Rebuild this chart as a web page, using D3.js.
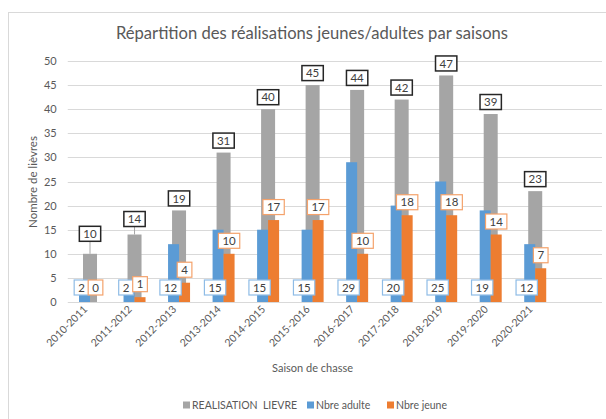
<!DOCTYPE html>
<html lang="fr">
<head>
<meta charset="UTF-8" />
<title>Répartition des réalisations jeunes/adultes par saisons</title>
<style>
    body { margin: 0; background: #fff; font-family: Lato, "Open Sans", sans-serif; }
    svg text { fill: #595959; }
    .grid line { stroke: #d9d9d9; stroke-width: 1px; }
    .lbl text { fill: #404040; font-size: 11.5px; }
</style>
</head>
<body>
<svg width="606" height="419"></svg>
<script src="https://d3js.org/d3.v7.min.js"></script>
<script>
// data
const seasons = ['2010-2011', '2011-2012', '2012-2013', '2013-2014', '2014-2015', '2015-2016',
    '2016-2017', '2017-2018', '2018-2019', '2019-2020', '2020-2021'];
const realisation = [10, 14, 19, 31, 40, 45, 44, 42, 47, 39, 23];
const adultes = [2, 2, 12, 15, 15, 15, 29, 20, 25, 19, 12];
const jeunes = [0, 1, 4, 10, 17, 17, 10, 18, 18, 14, 7];
const yTicks = [0, 5, 10, 15, 20, 25, 30, 35, 40, 45, 50];
const seriesNames = ['REALISATION  LIEVRE', 'Nbre adulte', 'Nbre jeune'];
const colors = ['#a5a5a5', '#5b9bd5', '#ed7d31'];

const svg = d3.select('svg');

// chart frame
svg.append('rect')
    .attr('x', 8.5).attr('y', 12.5)
    .attr('width', 620).attr('height', 420)
    .attr('fill', 'none').attr('stroke', '#d9d9d9');

const plotL = 67.75, plotR = 602, plotT = 61, plotB = 302;

// excel leaves one empty slot at the end of the axis
const x = d3.scaleBand().domain(seasons.concat([' '])).range([plotL, plotR]);
const y = d3.scaleLinear().domain([0, 50]).range([plotB, plotT]);

svg.append('text')
    .attr('x', 312).attr('y', 39)
    .attr('text-anchor', 'middle')
    .style('font-size', '16.6px')
    .text('Répartition des réalisations jeunes/adultes par saisons');

// gridlines
svg.append('g').attr('class', 'grid')
    .selectAll('line').data(yTicks).join('line')
    .attr('x1', plotL).attr('x2', plotR)
    .attr('y1', (d) => Math.round(y(d)) + 0.5)
    .attr('y2', (d) => Math.round(y(d)) + 0.5);

const yAxis = svg.append('g')
    .attr('transform', `translate(${plotL},0)`)
    .call(d3.axisLeft(y).tickValues(yTicks).tickSize(0).tickPadding(11));
yAxis.select('.domain').remove();
yAxis.selectAll('text').style('font-size', '11px').attr('fill', '#595959').style('font-family', 'Lato, sans-serif');

svg.append('text')
    .attr('transform', 'translate(37,182) rotate(-90)')
    .attr('text-anchor', 'middle')
    .style('font-size', '11.5px')
    .text('Nombre de lièvres');

const xAxis = svg.append('g')
    .attr('transform', `translate(0,${plotB})`)
    .call(d3.axisBottom(x).tickValues(seasons).tickSize(0).tickPadding(0));
xAxis.select('.domain').remove();
xAxis.selectAll('text')
    .style('font-size', '10.5px').style('font-family', 'Lato, sans-serif')
    .attr('fill', '#595959')
    .attr('text-anchor', 'end')
    .attr('dy', null)
    .attr('transform', 'translate(-2,8) rotate(-45)');

svg.append('text')
    .attr('x', 312.5).attr('y', 372)
    .attr('text-anchor', 'middle')
    .style('font-size', '11px')
    .text('Saison de chasse');

const cx = (s) => x(s) + x.bandwidth() / 2;
const grayW = 14, barW = 11;

// bars
svg.append('g').selectAll('rect').data(seasons).join('rect')
    .attr('x', (s) => cx(s) - grayW / 2)
    .attr('width', grayW)
    .attr('y', (s, i) => y(realisation[i]))
    .attr('height', (s, i) => plotB - y(realisation[i]))
    .attr('fill', colors[0]);

svg.append('g').selectAll('rect').data(seasons).join('rect')
    .attr('x', (s) => cx(s) - barW)
    .attr('width', barW)
    .attr('y', (s, i) => y(adultes[i]))
    .attr('height', (s, i) => plotB - y(adultes[i]))
    .attr('fill', colors[1]);

svg.append('g').selectAll('rect').data(seasons).join('rect')
    .attr('x', (s) => cx(s))
    .attr('width', barW)
    .attr('y', (s, i) => y(jeunes[i]))
    .attr('height', (s, i) => plotB - y(jeunes[i]))
    .attr('fill', colors[2]);

// data labels
function label(g, px, py, txt, stroke, sw) {
    const t = g.append('text')
        .attr('x', px).attr('y', py)
        .attr('text-anchor', 'middle')
        .attr('dy', '0.36em')
        .text(txt);
    const w = t.node().getComputedTextLength() + 8;
    g.insert('rect', 'text')
        .attr('x', px - w / 2).attr('y', py - 7.5)
        .attr('width', w).attr('height', 15)
        .attr('fill', '#fff').attr('stroke', stroke).attr('stroke-width', sw);
}

// excel pushed the first two labels upward
const nudge = { '2010-2011': 8, '2011-2012': 3.5 };

seasons.forEach((s, i) => {
    const barTop = y(realisation[i]);
    const ly = barTop - 12 - (nudge[s] || 0);
    const g = svg.append('g').attr('class', 'lbl');
    if (barTop - ly > 14) {
        g.append('line')
            .attr('x1', cx(s)).attr('x2', cx(s))
            .attr('y1', ly + 7.5).attr('y2', barTop)
            .attr('stroke', '#a6a6a6');
    }
    label(g, cx(s), ly, realisation[i], '#262626', 1.5);

    const gb = svg.append('g').attr('class', 'lbl');
    label(gb, cx(s) - barW / 2 - 3, 287.5, adultes[i], '#8fbce6', 1.2);

    const go = svg.append('g').attr('class', 'lbl');
    const oy = Math.min(y(jeunes[i]) - 13, 287.5);
    label(go, cx(s) + barW / 2, oy, jeunes[i], '#f4a26b', 1.2);
});

// legend
const legendX = [183, 307, 387];
const lg = svg.append('g');
seriesNames.forEach((n, i) => {
    lg.append('rect')
        .attr('x', legendX[i]).attr('y', 401.5)
        .attr('width', 7).attr('height', 7)
        .attr('fill', colors[i]);
    lg.append('text')
        .attr('x', legendX[i] + 9).attr('y', 405)
        .attr('dy', '0.35em')
        .style('font-size', '10.5px')
        .style('white-space', 'pre')
        .text(n);
});
</script>
</body>
</html>
